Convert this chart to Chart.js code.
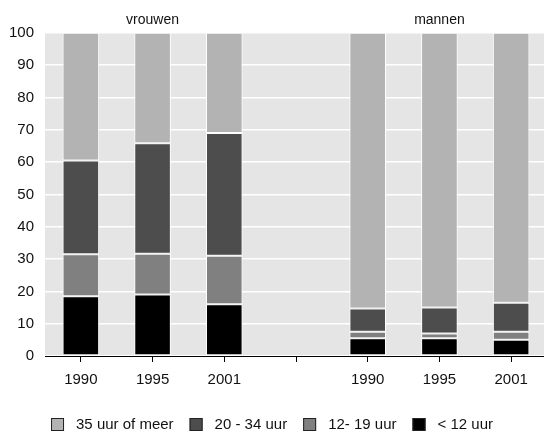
<!DOCTYPE html>
<html>
<head>
<meta charset="utf-8">
<script src="https://cdn.jsdelivr.net/npm/chart.js@4/dist/chart.umd.min.js"></script>
<style>
html,body{margin:0;padding:0;background:#fff;overflow:hidden;}
#wrap{position:relative;width:548px;height:432px;}
</style>
</head>
<body>
<div id="wrap"><canvas id="c"></canvas></div>
<script>
const categories = ['1990', '1995', '2001', '', '1990', '1995', '2001'];
const groupLabels = ['', 'vrouwen', '', '', '', 'mannen', ''];
const under12 = [18.5, 19, 16, null, 5.5, 5.5, 5];
const h12to19 = [13, 12.6, 15, null, 2, 1.5, 2.5];
const h20to34 = [29, 34.2, 38, null, 7.2, 8, 9];
const h35plus = [39.5, 34.2, 31, null, 85.3, 85, 83.5];
const seriesNames = ['< 12 uur', '12- 19 uur', '20 - 34 uur', '35 uur of meer'];
const seriesColors = ['#000000', '#808080', '#4d4d4d', '#b3b3b3'];
const yTicks = [0, 10, 20, 30, 40, 50, 60, 70, 80, 90, 100];

const FONT = "'Liberation Sans', Arial, sans-serif";

const bgPlugin = {
  id: 'plotBg',
  beforeDraw(chart) {
    const {ctx, chartArea: a} = chart;
    ctx.save();
    ctx.fillStyle = '#e5e5e5';
    ctx.fillRect(a.left, a.top, a.right - a.left, a.bottom - a.top);
    ctx.restore();
  }
};

const legendPlugin = {
  id: 'customLegend',
  afterDraw(chart) {
    const ctx = chart.ctx;
    const items = chart.data.datasets.map(d => ({text: d.label, color: d.backgroundColor})).reverse();
    ctx.save();
    ctx.font = '15px ' + FONT;
    const box = 13, gapText = 12, gapItem = 16;
    let total = 0;
    items.forEach((it, i) => {
      it.w = ctx.measureText(it.text).width;
      total += box + gapText + it.w + (i < items.length - 1 ? gapItem : 0);
    });
    let x = 272 - total / 2;
    const yTop = 418;
    items.forEach(it => {
      ctx.fillStyle = it.color;
      ctx.fillRect(x, yTop, box, box);
      ctx.strokeStyle = '#222';
      ctx.lineWidth = 1;
      ctx.strokeRect(x + 0.5, yTop + 0.5, box - 1, box - 1);
      ctx.fillStyle = '#111';
      ctx.textBaseline = 'middle';
      ctx.textAlign = 'left';
      ctx.fillText(it.text, x + box + gapText, yTop + box / 2 + 0.5);
      x += box + gapText + it.w + gapItem;
    });
    ctx.restore();
  }
};

const seriesData = [under12, h12to19, h20to34, h35plus];

new Chart(document.getElementById('c'), {
  type: 'bar',
  data: {
    labels: categories,
    datasets: seriesData.map((d, i) => ({
      label: seriesNames[i],
      data: d,
      backgroundColor: seriesColors[i],
      borderColor: '#ffffff',
      borderWidth: 1,
      borderSkipped: false,
      categoryPercentage: 1,
      barPercentage: 0.51,
      xAxisID: 'x',
      yAxisID: 'y'
    }))
  },
  options: {
    responsive: true,
    maintainAspectRatio: false,
    animation: false,
    layout: {padding: {left: 0, right: 1, top: 8, bottom: 34}},
    plugins: {legend: {display: false}, tooltip: {enabled: false}},
    scales: {
      x: {
        stacked: true,
        offset: true,
        grid: {display: true, drawOnChartArea: false, offset: false, tickLength: 6, tickColor: '#000', tickWidth: 1},
        border: {display: true, color: '#000', width: 1},
        ticks: {color: '#111', font: {family: FONT, size: 15}, padding: 9, maxRotation: 0, autoSkip: false}
      },
      x2: {
        type: 'category',
        labels: groupLabels,
        position: 'top',
        offset: true,
        grid: {display: false, drawTicks: false},
        border: {display: false},
        ticks: {color: '#111', font: {family: FONT, size: 14}, padding: 4, maxRotation: 0, autoSkip: false}
      },
      y: {
        stacked: true,
        min: 0,
        max: 100,
        afterBuildTicks(scale) { scale.ticks = yTicks.map(v => ({value: v})); },
        afterFit(scale) { scale.width = 45; },
        grid: {color: '#ffffff', lineWidth: 1.6, drawTicks: false},
        border: {display: false},
        ticks: {color: '#111', font: {family: FONT, size: 15}, padding: 11}
      }
    }
  },
  plugins: [bgPlugin, legendPlugin]
});
</script>
</body>
</html>
